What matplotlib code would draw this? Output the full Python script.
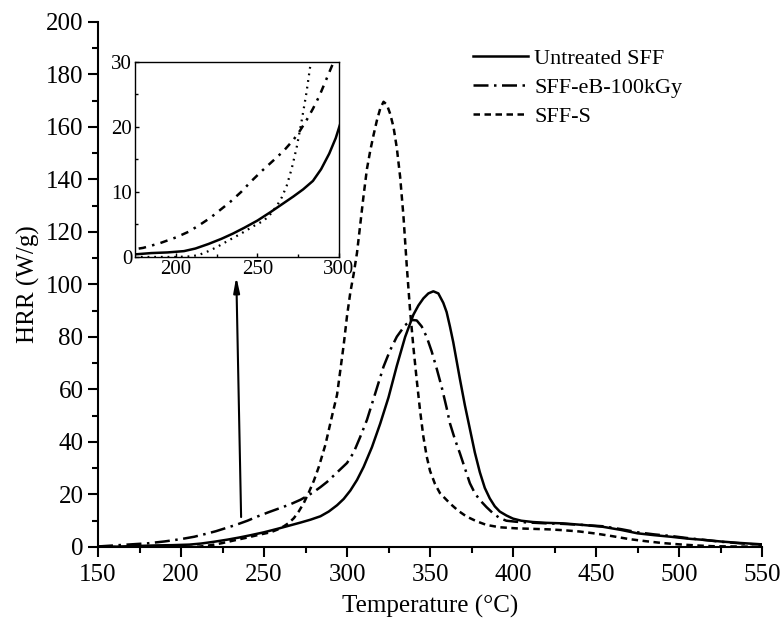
import matplotlib
matplotlib.use("Agg")
import matplotlib.pyplot as plt

plt.rcParams['font.family'] = ['Liberation Serif', 'DejaVu Serif']

# Untreated SFF (solid)
untreated_t = [150, 160, 170, 175, 185, 195, 205, 212, 220, 228, 235, 242, 250, 258,
               265, 272, 278, 284, 289, 294, 298, 302, 306, 310, 315, 320, 325, 330,
               335, 340, 343, 346, 349, 352, 355, 358, 360, 362, 364, 366, 368, 371,
               374, 377, 380, 383, 386, 389, 392, 396, 400, 405, 412, 420, 430, 442,
               454, 465, 475, 485, 495, 505, 515, 525, 535, 545, 550]
untreated_hrr = [0.0, 0.1, 0.3, 0.4, 0.6, 0.7, 0.9, 1.3, 2.0, 2.8, 3.6, 4.5, 5.6, 6.9,
                 8.1, 9.3, 10.4, 11.7, 13.5, 15.9, 18.3, 21.5, 25.5, 30.5, 38, 47, 57, 69,
                 80, 88.5, 92, 94.7, 96.6, 97.4, 96.6, 93, 89.5, 84, 78, 71, 64, 54,
                 45, 36, 28.5, 22.5, 18.5, 15.5, 13.5, 12, 10.8, 10, 9.5, 9.2, 9.0, 8.4,
                 7.7, 6.5, 5.2, 4.5, 3.9, 3.2, 2.7, 2.1, 1.6, 1.2, 1.0]

# SFF-eB-100kGy (dash-dot)
eb_t = [150, 160, 170, 180, 190, 200, 208, 215, 221, 227, 233, 240, 246, 253, 260,
        266, 272, 276, 280, 284, 288, 292, 296, 300, 304, 308, 312, 317, 322, 326,
        330, 335, 339, 342, 345, 348, 351, 354, 357, 360, 362, 365, 368, 371, 374,
        377, 380, 384, 388, 392, 396, 402, 410, 420, 430, 442, 454, 465, 475, 485,
        495, 505, 515, 525, 535, 545, 550]
eb_hrr = [0.2, 0.6, 1.0, 1.4, 2.1, 3.0, 3.9, 5.0, 6.0, 7.2, 8.4, 10.0, 11.6, 13.3, 14.9,
          16.3, 18.0, 19.4, 21.0, 22.8, 24.8, 27.2, 29.6, 32.0, 36, 42, 48.4, 58.5, 68.7, 75,
          80.1, 84.5, 86.5, 86.3, 84, 80, 74.5, 68, 61, 53, 47.1, 41, 35.7, 30, 24.3,
          20.5, 17.9, 15.2, 12.8, 11, 10, 9.6, 9.3, 9.0, 8.8, 8.4, 7.9, 6.8, 5.6, 4.8,
          4.2, 3.4, 2.7, 2.0, 1.5, 1.0, 0.8]

# SFF-S (dashed)
s_t = [150, 170, 190, 200, 210, 215, 220, 225, 232, 240, 248, 254, 258, 262, 265,
       268, 271, 274, 277, 280, 283, 287, 291, 294, 298, 300, 302, 304, 306, 308,
       310, 312, 314, 316, 318, 320, 322, 324, 326, 328, 330, 332, 334, 336, 338,
       340, 342, 344, 346, 348, 350, 353, 356, 362, 367, 372, 378, 384, 392, 402,
       412, 422, 430, 440, 450, 460, 470, 480, 490, 500, 510, 520, 530, 550]
s_hrr = [0.0, 0.0, 0.0, 0.0, 0.1, 0.4, 0.9, 1.5, 2.5, 3.6, 4.8, 5.6, 6.6, 7.9, 9.2,
         11.0, 13.6, 16.8, 20.8, 25.2, 30.5, 39, 50, 58, 77, 88, 97, 104, 112, 123,
         134, 144, 151, 157, 162.5, 167, 169.6, 168.5, 165, 160, 152, 141, 126, 107, 90,
         76, 63.6, 52, 42, 34.5, 29, 24, 20.5, 16.6, 13.8, 11.6, 9.8, 8.4, 7.5, 7.1,
         6.9, 6.7, 6.4, 5.9, 5.1, 4.1, 3.0, 2.2, 1.5, 1.0, 0.6, 0.3, 0.2, 0.1]

labels = ["Untreated SFF", "SFF-eB-100kGy", "SFF-S"]

fig = plt.figure(figsize=(7.81, 6.21), dpi=100)
ax = fig.add_axes([0.1255, 0.1192, 0.8502, 0.8454])

lw = 1.8
ax.plot(untreated_t, untreated_hrr, color='black', lw=lw, ls='-', label=labels[0])
ax.plot(eb_t, eb_hrr, color='black', lw=lw, dashes=(6, 2.2, 1, 2.2), label=labels[1])
ax.plot(s_t, s_hrr, color='black', lw=lw, dashes=(2.6, 1.8), label=labels[2])

ax.set_xlim(150, 550)
ax.set_ylim(0, 200)
ax.set_xticks(range(150, 551, 50))
ax.set_xticks(range(175, 551, 50), minor=True)
ax.set_yticks(range(0, 201, 20))
ax.set_yticks(range(10, 201, 20), minor=True)
ax.spines['top'].set_visible(False)
ax.spines['right'].set_visible(False)
for s in ['left', 'bottom']:
    ax.spines[s].set_linewidth(1.5)
ax.tick_params(which='major', direction='out', length=7, width=1.5, labelsize=18)
ax.tick_params(axis='x', which='major', pad=5)
ax.tick_params(which='minor', direction='out', length=4, width=1.5)
ax.set_xlabel("Temperature (°C)", fontsize=18, labelpad=7)
ax.set_ylabel("HRR (W/g)", fontsize=18, labelpad=4)

ax.legend(loc='upper left', bbox_to_anchor=(0.565, 0.95), frameon=False, fontsize=16,
          handlelength=2.45, handletextpad=0.3, labelspacing=0.38,
          borderpad=0, borderaxespad=0)

# arrow pointing to inset
ax.annotate("", xy=(233.3, 103), xytext=(236.2, 11.4),
            arrowprops=dict(arrowstyle='-|>,head_length=0.9,head_width=0.18',
                            color='black', lw=1.5, shrinkA=0, shrinkB=0))

# inset
ins = fig.add_axes([0.1729, 0.5862, 0.2612, 0.314])
ins.plot(untreated_t, untreated_hrr, color='black', lw=1.8, ls='-')
ins.plot(eb_t, eb_hrr, color='black', lw=1.8, dashes=(3, 2.5, 1, 2.5))
ins.plot(s_t, s_hrr, color='black', lw=1.6, dashes=(0.8, 2.2))
ins.set_xlim(175, 300)
ins.set_ylim(0, 30)
ins.set_xticks([200, 250, 300])
ins.set_xticks([225, 275], minor=True)
ins.set_yticks([0, 10, 20, 30])
ins.set_yticks([5, 15, 25], minor=True)
for s in ins.spines.values():
    s.set_linewidth(1.0)
ins.tick_params(which='major', direction='in', length=3, width=1.0, labelsize=15, pad=2)
ins.tick_params(which='minor', direction='in', length=2, width=1.0)

fig.savefig("out.png", dpi=100)
